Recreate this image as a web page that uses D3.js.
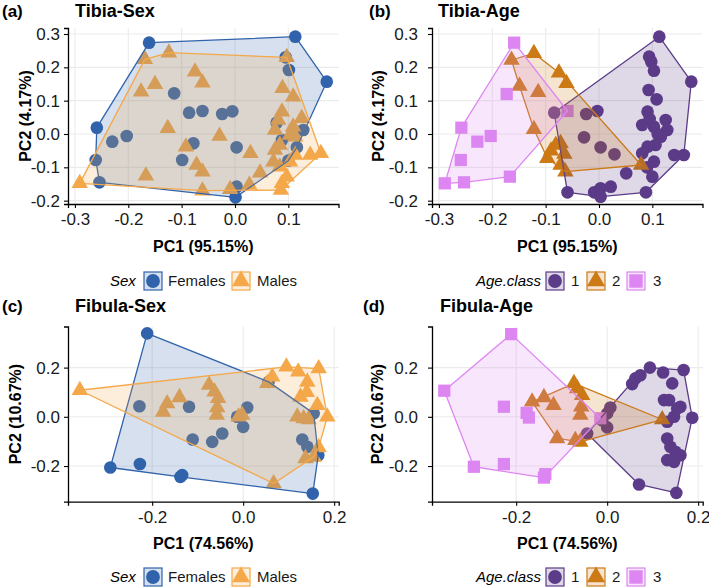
<!DOCTYPE html>
<html><head><meta charset="utf-8">
<script src="https://cdn.jsdelivr.net/npm/d3@7"></script>
<style>
body{margin:0;background:#fff;}
text{font-family:"Liberation Sans",Arial,sans-serif;}
</style>
</head><body>
<svg id="chart" width="709" height="587"></svg>
<script>
// ---------------- DATA ----------------
const tibiaFemales = [[-0.161,0.274],[0.113,0.292],[0.172,0.157],[0.095,0.230],[0.101,0.192],[-0.114,0.122],[-0.086,0.064],[-0.061,0.069],[-0.024,0.060],[-0.005,0.068],[-0.259,0.019],[-0.230,-0.023],[-0.203,-0.006],[-0.261,-0.078],[-0.254,-0.145],[-0.078,-0.028],[-0.099,-0.078],[0.003,-0.040],[0.001,-0.190],[0.003,-0.158],[0.078,0.034],[0.116,-0.040],[0.088,-0.018],[0.128,0.012],[0.100,-0.080]];
const tibiaMales = [[-0.291,-0.148],[-0.169,0.224],[-0.124,0.244],[-0.075,0.187],[-0.061,0.154],[-0.150,0.149],[-0.176,0.127],[-0.126,0.017],[-0.092,-0.038],[-0.072,-0.093],[-0.061,-0.113],[-0.167,-0.125],[-0.029,-0.006],[0.029,-0.058],[0.047,-0.116],[0.027,-0.153],[-0.061,-0.170],[-0.009,-0.166],[0.097,0.230],[0.089,0.137],[0.109,0.112],[0.088,0.067],[0.081,0.042],[0.125,0.047],[0.109,0.022],[0.075,0.012],[0.103,-0.003],[0.084,-0.033],[0.075,-0.048],[0.113,-0.063],[0.072,-0.083],[0.084,-0.098],[0.103,-0.083],[0.141,-0.063],[0.161,-0.058],[0.097,-0.128],[0.088,-0.148],[0.086,-0.168],[0.113,-0.008]];
const tibiaAge1 = [[0.113,0.292],[0.094,0.232],[0.098,0.217],[0.103,0.190],[0.173,0.157],[0.093,0.132],[0.108,0.104],[-0.084,0.064],[-0.003,0.069],[-0.024,0.060],[-0.028,-0.010],[0.003,-0.040],[0.029,-0.061],[0.091,0.067],[0.081,0.027],[0.103,0.022],[0.125,0.042],[0.128,0.012],[0.116,-0.008],[0.106,-0.033],[0.091,-0.038],[0.081,-0.058],[0.103,-0.083],[0.100,-0.128],[0.141,-0.063],[0.159,-0.063],[0.051,-0.118],[0.088,-0.175],[0.003,-0.163],[-0.009,-0.175],[0.022,-0.158],[0.003,-0.188],[-0.059,-0.175],[0.095,0.045],[0.110,0.000],[0.090,-0.100]];
const tibiaAge2 = [[-0.122,0.242],[-0.164,0.222],[-0.075,0.184],[-0.061,0.152],[-0.149,0.144],[-0.114,0.125],[-0.122,0.014],[-0.081,-0.033],[-0.072,-0.028],[-0.097,-0.073],[-0.072,-0.093],[-0.063,-0.113],[0.079,-0.093],[-0.090,-0.050],[-0.065,-0.060]];
const tibiaAge3 = [[-0.159,0.274],[-0.173,0.120],[-0.258,0.019],[-0.228,-0.023],[-0.203,-0.006],[-0.259,-0.078],[-0.289,-0.148],[-0.253,-0.145],[-0.167,-0.128],[-0.059,0.069]];

const fibulaFemales = [[-0.211,0.339],[-0.228,0.043],[-0.119,0.041],[-0.111,-0.092],[-0.068,-0.102],[-0.046,-0.068],[0.000,-0.041],[0.009,0.038],[-0.013,0.000],[-0.292,-0.206],[-0.227,-0.192],[-0.138,-0.244],[-0.134,-0.237],[0.153,-0.312],[0.130,-0.092],[0.141,-0.122],[0.165,-0.156],[0.155,0.014],[0.056,0.142]];
const fibulaMales = [[-0.359,0.108],[0.067,-0.271],[-0.075,0.129],[-0.063,0.102],[-0.055,0.075],[-0.057,0.038],[-0.058,0.007],[-0.140,0.079],[-0.167,0.054],[-0.176,0.020],[-0.010,0.000],[-0.002,0.007],[0.053,0.136],[0.064,0.163],[0.095,0.203],[0.121,0.183],[0.141,0.142],[0.166,0.196],[0.126,0.081],[0.163,0.047],[0.185,0.000],[0.119,0.000],[0.133,-0.007],[0.144,-0.011],[0.137,-0.169],[0.155,-0.163],[0.166,-0.125],[0.140,0.100]];
const fibulaAge1 = [[0.094,0.200],[0.123,0.180],[0.168,0.190],[0.143,0.136],[0.062,0.156],[0.055,0.133],[0.073,0.169],[0.125,0.068],[0.136,0.068],[0.154,0.034],[0.161,0.041],[0.147,0.000],[0.187,-0.004],[0.132,-0.020],[0.007,0.038],[0.000,0.014],[-0.011,-0.014],[0.000,-0.043],[-0.044,-0.068],[0.132,-0.088],[0.139,-0.122],[0.150,-0.142],[0.161,-0.156],[0.132,-0.176],[0.147,-0.183],[0.070,-0.275],[0.152,-0.309]];
const fibulaAge2 = [[-0.073,0.136],[-0.066,0.115],[-0.055,0.088],[-0.165,0.061],[-0.139,0.079],[-0.118,0.047],[-0.057,0.041],[-0.059,0.007],[-0.110,-0.088],[-0.070,-0.095],[-0.059,-0.102],[0.121,-0.011]];
const fibulaAge3 = [[-0.211,0.336],[-0.358,0.106],[-0.227,0.041],[-0.177,0.016],[-0.172,-0.003],[-0.293,-0.203],[-0.227,-0.192],[-0.139,-0.247],[-0.136,-0.233],[-0.015,-0.006]];

const tibiaXLimits = [-0.313, 0.194];
const tibiaYLimits = [-0.21, 0.318];
const fibulaXLimits = [-0.385, 0.21];
const fibulaYLimits = [-0.345, 0.367];

const tibiaXTicks = [-0.3,-0.2,-0.1,0.0,0.1];
const tibiaXTickLabels = ["-0.3","-0.2","-0.1","0.0","0.1"];
const tibiaYTicks = [-0.2,-0.1,0.0,0.1,0.2,0.3];
const tibiaYTickLabels = ["-0.2","-0.1","0.0","0.1","0.2","0.3"];
const fibulaXTicks = [-0.2,0.0,0.2];
const fibulaXTickLabels = ["-0.2","0.0","0.2"];
const fibulaYTicks = [-0.2,0.0,0.2];
const fibulaYTickLabels = ["-0.2","0.0","0.2"];

const sexLabels = ["Females","Males"];
const ageLabels = ["1","2","3"];
const sexColors = ["#3063AB","#F5A849"];
const ageColors = ["#5C3B89","#CC7A16","#DD86F2"];

// ---------------- DRAW ----------------
const svg = d3.select("#chart");
const symSize = {circle:125, triangle:118, square:150};
const symType = {circle:d3.symbolCircle, triangle:d3.symbolTriangle, square:d3.symbolSquare};

function drawPanel(c){
  const g = svg.append("g");
  const x = d3.scaleLinear().domain(c.xLim).range([c.left, c.right]);
  const y = d3.scaleLinear().domain(c.yLim).range([c.bottom, c.top]);
  // grid
  g.append("g").selectAll("line.gx").data(c.xTicks).join("line")
    .attr("x1",d=>x(d)).attr("x2",d=>x(d)).attr("y1",c.top).attr("y2",c.bottom)
    .attr("stroke","#ebebeb").attr("stroke-width",1.1);
  g.append("g").selectAll("line.gy").data(c.yTicks).join("line")
    .attr("y1",d=>y(d)).attr("y2",d=>y(d)).attr("x1",c.left).attr("x2",c.right)
    .attr("stroke","#ebebeb").attr("stroke-width",1.1);
  // points
  c.groups.forEach(gr=>{
    g.append("g").selectAll("path").data(gr.data).join("path")
      .attr("d", d3.symbol().type(symType[gr.shape]).size(symSize[gr.shape]))
      .attr("transform",d=>`translate(${x(d[0])},${y(d[1])})`)
      .attr("fill",gr.color);
  });
  // hulls
  c.groups.forEach(gr=>{
    const hull = d3.polygonHull(gr.data.map(d=>[x(d[0]),y(d[1])]));
    g.append("path").attr("d","M"+hull.join("L")+"Z")
      .attr("fill",gr.color).attr("fill-opacity",0.2)
      .attr("stroke",gr.color).attr("stroke-width",1.3).attr("stroke-linejoin","round");
  });
  // axes
  const ax = g.append("g").attr("transform",`translate(0,${c.bottom})`)
    .call(d3.axisBottom(x).tickValues(c.xTicks).tickFormat((d,i)=>c.xTickLabels[i]).tickSizeOuter(0).tickSize(4).tickPadding(3));
  const ay = g.append("g").attr("transform",`translate(${c.left},0)`)
    .call(d3.axisLeft(y).tickValues(c.yTicks).tickFormat((d,i)=>c.yTickLabels[i]).tickSizeOuter(0).tickSize(4).tickPadding(c.yPad));
  [ax,ay].forEach(a=>{
    a.select(".domain").attr("stroke","#000").attr("stroke-width",1.3);
    a.selectAll(".tick line").attr("stroke","#000").attr("stroke-width",1.1);
    a.selectAll(".tick text").attr("font-size",17).attr("fill","#1a1a1a").attr("font-family","Liberation Sans, Arial, sans-serif");
  });
  ax.selectAll(".tick text").attr("dy","0.85em");
  // titles
  g.append("text").attr("x",c.tagX).attr("y",c.titleY).attr("font-size",17).attr("font-weight","bold").text(c.tag);
  g.append("text").attr("x",c.titleX).attr("y",c.titleY).attr("font-size",18).attr("font-weight","bold").text(c.title);
  g.append("text").attr("x",(c.left+c.right)/2).attr("y",c.xTitleY).attr("text-anchor","middle")
    .attr("font-size",16).attr("font-weight","bold").text(c.xTitle);
  g.append("text").attr("transform",`translate(${c.yTitleX},${(c.top+c.bottom)/2}) rotate(-90)`)
    .attr("text-anchor","middle").attr("dy","0.35em").attr("font-size",16).attr("font-weight","bold").text(c.yTitle);
  // legend
  const L = c.legend;
  g.append("text").attr("x",L.titleX).attr("y",L.y).attr("dy","0.35em").attr("font-size",15)
    .attr("font-style","italic").text(L.title);
  c.groups.forEach((gr,i)=>{
    const kx = L.keyX[i];
    g.append("rect").attr("x",kx).attr("y",L.y-9).attr("width",18).attr("height",18)
      .attr("fill",gr.color).attr("fill-opacity",0.2).attr("stroke",gr.color).attr("stroke-width",1.2);
    g.append("path").attr("d", d3.symbol().type(symType[gr.shape]).size(symSize[gr.shape]*1.2))
      .attr("transform",`translate(${kx+9},${L.y})`).attr("fill",gr.color);
    g.append("text").attr("x",L.labelX[i]).attr("y",L.y).attr("dy","0.35em").attr("font-size",15)
      .attr("fill","#1a1a1a").text(L.labels[i]);
  });
}

const sexLegendA = {title:"Sex", titleX:110, keyX:[144,232], labelX:[168,257], labels:sexLabels};
const ageLegendB = {title:"Age.class", titleX:476, keyX:[546,587,627], labelX:[571,612,653], labels:ageLabels};

drawPanel({tag:"(a)", tagX:2, title:"Tibia-Sex", titleX:75, titleY:17,
  left:68, right:338.5, top:28, bottom:204, yPad:4, xLim:tibiaXLimits, yLim:tibiaYLimits,
  xTicks:tibiaXTicks, xTickLabels:tibiaXTickLabels, yTicks:tibiaYTicks, yTickLabels:tibiaYTickLabels,
  xTitle:"PC1 (95.15%)", xTitleY:252, yTitle:"PC2 (4.17%)", yTitleX:25,
  groups:[{data:tibiaFemales,color:sexColors[0],shape:"circle"},{data:tibiaMales,color:sexColors[1],shape:"triangle"}],
  legend:Object.assign({y:281},sexLegendA)});

drawPanel({tag:"(b)", tagX:369, title:"Tibia-Age", titleX:438, titleY:17,
  left:432, right:702.5, top:28, bottom:204, yPad:10, xLim:tibiaXLimits, yLim:tibiaYLimits,
  xTicks:tibiaXTicks, xTickLabels:tibiaXTickLabels, yTicks:tibiaYTicks, yTickLabels:tibiaYTickLabels,
  xTitle:"PC1 (95.15%)", xTitleY:252, yTitle:"PC2 (4.17%)", yTitleX:378,
  groups:[{data:tibiaAge1,color:ageColors[0],shape:"circle"},{data:tibiaAge2,color:ageColors[1],shape:"triangle"},{data:tibiaAge3,color:ageColors[2],shape:"square"}],
  legend:Object.assign({y:281},ageLegendB)});

drawPanel({tag:"(c)", tagX:2, title:"Fibula-Sex", titleX:75, titleY:311.5,
  left:68, right:338.7, top:326.5, bottom:501.7, yPad:4, xLim:fibulaXLimits, yLim:fibulaYLimits,
  xTicks:fibulaXTicks, xTickLabels:fibulaXTickLabels, yTicks:fibulaYTicks, yTickLabels:fibulaYTickLabels,
  xTitle:"PC1 (74.56%)", xTitleY:548.5, yTitle:"PC2 (10.67%)", yTitleX:15,
  groups:[{data:fibulaFemales,color:sexColors[0],shape:"circle"},{data:fibulaMales,color:sexColors[1],shape:"triangle"}],
  legend:Object.assign({y:577},sexLegendA)});

drawPanel({tag:"(d)", tagX:363, title:"Fibula-Age", titleX:440, titleY:311.5,
  left:432, right:702.7, top:326.5, bottom:501.7, yPad:10, xLim:fibulaXLimits, yLim:fibulaYLimits,
  xTicks:fibulaXTicks, xTickLabels:fibulaXTickLabels, yTicks:fibulaYTicks, yTickLabels:fibulaYTickLabels,
  xTitle:"PC1 (74.56%)", xTitleY:548.5, yTitle:"PC2 (10.67%)", yTitleX:377.5,
  groups:[{data:fibulaAge1,color:ageColors[0],shape:"circle"},{data:fibulaAge2,color:ageColors[1],shape:"triangle"},{data:fibulaAge3,color:ageColors[2],shape:"square"}],
  legend:Object.assign({y:577},ageLegendB)});
</script>
</body></html>
